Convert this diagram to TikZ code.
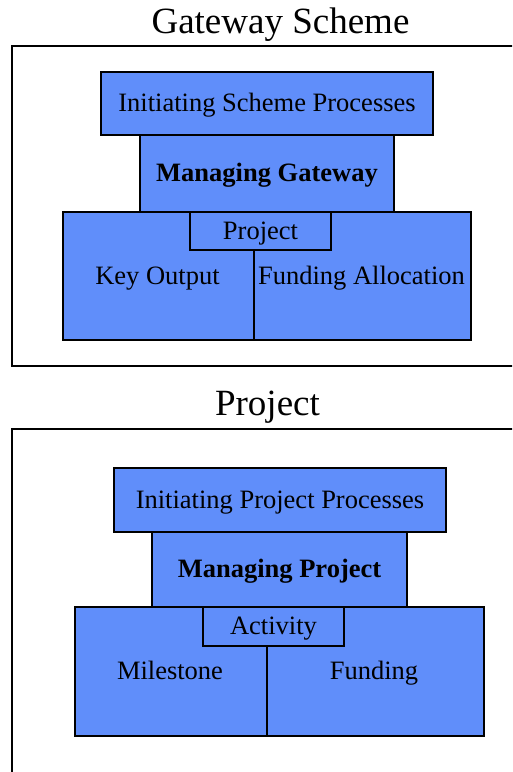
\documentclass[tikz,border=0pt]{standalone}
\usepackage{fontspec}
\setmainfont{Liberation Serif}
\definecolor{boxblue}{RGB}{96,142,250}
\begin{document}
\begin{tikzpicture}[x=1pt,y=-1pt,
  frame/.style={draw=black,line width=2.8pt},
  block/.style={draw=black,fill=boxblue,line width=2.8pt,rectangle,inner sep=0pt,
    text height=20pt,text depth=4pt,
    font=\fontsize{26.5}{30}\selectfont},
  caption/.style={font=\fontsize{26.5}{30}\selectfont,anchor=base,inner sep=0pt},
  heading/.style={font=\fontsize{37}{42}\selectfont,anchor=base,inner sep=0pt}]
\useasboundingbox (0,0) rectangle (512,772);
\clip (0,0) rectangle (512,772);

% ---- Gateway Scheme ----
\node[heading] (gsTitle) at (280.5,33) {Gateway Scheme};
\draw[frame] (12,46) rectangle (530,366);
\node[block,minimum width=191pt,minimum height=128pt] (keyOut) at (158.5,276) {};
\node[block,minimum width=217pt,minimum height=128pt] (fundAlloc) at (362.5,276) {};
\node[block,minimum width=141pt,minimum height=38pt] (gsProject) at (260.5,231) {Project};
\node[block,minimum width=254pt,minimum height=77pt] (manGate) at (267,173.5) {\textbf{Managing Gateway}};
\node[block,minimum width=332pt,minimum height=63pt] (initScheme) at (267,103.5) {Initiating Scheme Processes};
\node[caption] (keyOutText) at (157.5,284.5) {Key Output};
\node[caption] (fundAllocText) at (361.5,284.5) {Funding Allocation};

% ---- Project ----
\node[heading] (prTitle) at (267.5,415) {Project};
\draw[frame] (12,429) rectangle (530,800);
\node[block,minimum width=192pt,minimum height=129pt] (milestone) at (171,671.5) {};
\node[block,minimum width=217pt,minimum height=129pt] (funding) at (375.5,671.5) {};
\node[block,minimum width=141pt,minimum height=39pt] (activity) at (273.5,626.5) {Activity};
\node[block,minimum width=255pt,minimum height=75pt] (manProj) at (279.5,569.5) {\textbf{Managing Project}};
\node[block,minimum width=332pt,minimum height=64pt] (initProj) at (280,500) {Initiating Project Processes};
\node[caption] (milestoneText) at (170,679) {Milestone};
\node[caption] (fundingText) at (374,679) {Funding};
\end{tikzpicture}
\end{document}
